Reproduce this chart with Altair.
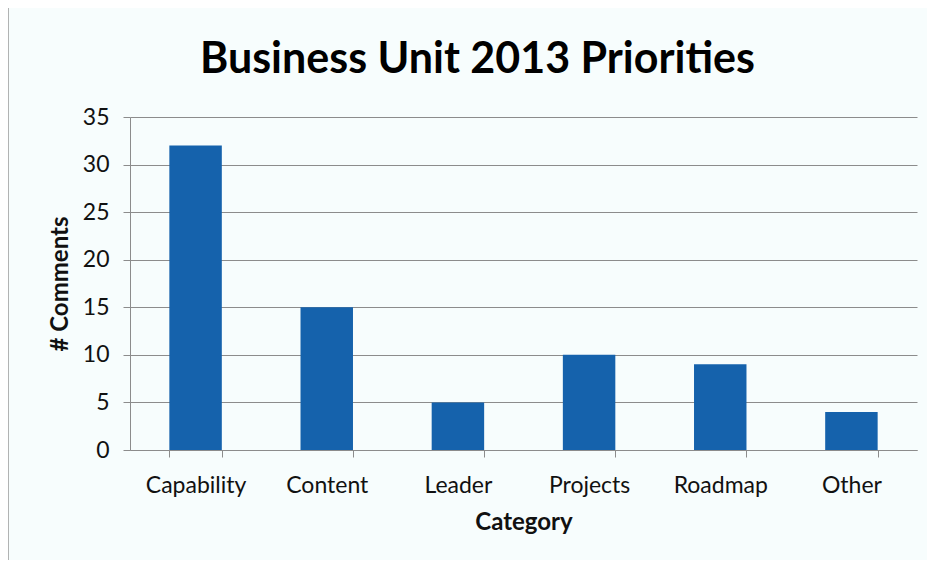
import altair as alt
import pandas as pd

categories = ["Capability", "Content", "Leader", "Projects", "Roadmap", "Other"]
comments = [32, 15, 5, 10, 9, 4]

df = pd.DataFrame({"Category": categories, "Comments": comments})

FONT = "Lato"
GRID = "#8c8c8c"

bars = alt.Chart(df).mark_bar(color="#1562ac").encode(
    x=alt.X(
        "Category:N",
        sort=categories,
        scale=alt.Scale(paddingInner=0.6, paddingOuter=0.3),
        axis=alt.Axis(
            title="Category",
            labelAngle=0,
            labelFont=FONT,
            labelFontSize=23,
            labelColor="#111111",
            labelPadding=17,
            titleFont=FONT,
            titleFontSize=24,
            titleFontWeight="bold",
            titleColor="#111111",
            titlePadding=13,
            domainColor=GRID,
            tickColor=GRID,
            tickSize=7,
            tickBand="extent",
            grid=False,
        ),
    ),
    y=alt.Y(
        "Comments:Q",
        scale=alt.Scale(domain=[0, 35], nice=False),
        axis=alt.Axis(
            title="# Comments",
            values=[0, 5, 10, 15, 20, 25, 30, 35],
            labelFont=FONT,
            labelFontSize=23,
            labelColor="#111111",
            labelPadding=14,
            titleFont=FONT,
            titleFontSize=24,
            titleFontWeight="bold",
            titleColor="#111111",
            titlePadding=10,
            domainColor=GRID,
            tickColor=GRID,
            tickSize=7,
            gridColor=GRID,
            gridOpacity=1,
        ),
    ),
)

border = alt.Chart(pd.DataFrame({"b": [0]})).mark_rect(
    fill=None, stroke="#9a9a9a", strokeWidth=1.5
).encode(
    x=alt.value(-122),
    x2=alt.value(900),
    y=alt.value(-110),
    y2=alt.value(560),
)

chart = alt.layer(border, bars).properties(
    width=787,
    height=333,
    title=alt.TitleParams(
        "Business Unit 2013 Priorities",
        font=FONT,
        fontSize=43,
        fontWeight="bold",
        color="#000000",
        anchor="middle",
        dx=-46,
        offset=-76,
    ),
    autosize=alt.AutoSizeParams(type="none"),
    padding={"left": 122, "top": 109, "right": 10, "bottom": 110},
    background="#f7fdfd",
).configure_view(stroke=None)

chart.save("out.html", embed_options={"renderer": "svg", "actions": False})
